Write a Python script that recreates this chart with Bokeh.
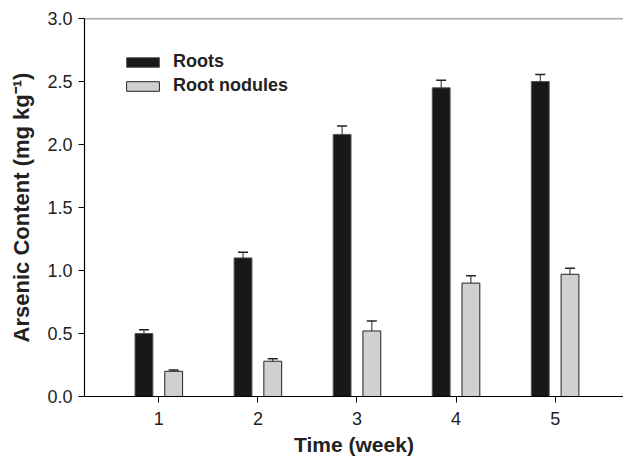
from bokeh.plotting import figure
from bokeh.models import (ColumnDataSource, Range1d, FixedTicker, Whisker, TeeHead,
                          Span, Legend, LegendItem, NumeralTickFormatter)
from bokeh.embed import file_html
from bokeh.resources import INLINE

weeks = [1, 2, 3, 4, 5]
week_labels = ["1", "2", "3", "4", "5"]
roots = [0.50, 1.10, 2.08, 2.45, 2.50]
roots_err = [0.03, 0.045, 0.067, 0.06, 0.055]
nodules = [0.20, 0.28, 0.52, 0.90, 0.97]
nodules_err = [0.01, 0.02, 0.08, 0.058, 0.047]
y_ticks = [0.0, 0.5, 1.0, 1.5, 2.0, 2.5, 3.0]

offset = 0.15
bar_w = 0.18

src_r = ColumnDataSource(dict(
    x=[w - offset for w in weeks], top=roots,
    upper=[v + e for v, e in zip(roots, roots_err)]))
src_n = ColumnDataSource(dict(
    x=[w + offset for w in weeks], top=nodules,
    upper=[v + e for v, e in zip(nodules, nodules_err)]))

p = figure(width=623, height=458, output_backend="svg", toolbar_location=None,
           x_range=Range1d(0.25, 5.69), y_range=Range1d(0, 3.0),
           min_border_left=84, min_border_top=18, min_border_bottom=60,
           min_border_right=0)
p.outline_line_color = None
p.grid.visible = False
p.background_fill_color = "white"
p.border_fill_color = "white"

r1 = p.vbar(x="x", top="top", width=bar_w, bottom=0, source=src_r,
            fill_color="#181818", line_color="#555555", line_width=1)
r2 = p.vbar(x="x", top="top", width=bar_w, bottom=0, source=src_n,
            fill_color="#d0d0d0", line_color="#222222", line_width=1)

for src in (src_r, src_n):
    w = Whisker(source=src, base="x", lower="top", upper="upper",
                dimension="height", line_color="#222222", line_width=1,
                upper_head=TeeHead(size=10, line_color="#222222", line_width=1.5),
                lower_head=None, level="glyph")
    p.add_layout(w)

p.add_layout(Span(location=3.0, dimension="width", line_color="#555555", line_width=1.5))

font = "Liberation Sans"
p.xaxis.ticker = FixedTicker(ticks=weeks)
p.xaxis.major_label_overrides = {w: l for w, l in zip(weeks, week_labels)}
p.yaxis.ticker = FixedTicker(ticks=y_ticks)
p.yaxis.formatter = NumeralTickFormatter(format="0.0")
for ax in (p.xaxis, p.yaxis):
    ax.axis_line_color = "black"
    ax.axis_line_width = 1.2
    ax.major_tick_line_color = "black"
    ax.major_tick_in = 0
    ax.major_tick_out = 6
    ax.minor_tick_line_color = None
    ax.major_label_text_font = font
    ax.major_label_text_font_size = "18px"
    ax.major_label_text_color = "#222222"
    ax.axis_label_text_font = font
    ax.axis_label_text_font_size = "21px"
    ax.axis_label_text_font_style = "bold"
    ax.axis_label_text_color = "#222222"
p.yaxis.axis_label_text_font_size = "22px"
p.xaxis.axis_label = "Time (week)"
p.yaxis.axis_label = "Arsenic Content (mg kg\u207b\u00b9)"
p.xaxis.major_label_standoff = 9
p.xaxis.axis_label_standoff = 5
p.yaxis.major_label_standoff = 6
p.yaxis.axis_label_standoff = 10

legend = Legend(items=[LegendItem(label="Roots", renderers=[r1]),
                       LegendItem(label="Root nodules", renderers=[r2])],
                location=(38, 300), orientation="vertical",
                glyph_width=41, glyph_height=12, label_height=20, spacing=3,
                padding=0, margin=0, border_line_color=None,
                background_fill_alpha=0, label_text_font=font,
                label_text_font_size="18px", label_text_font_style="bold",
                label_text_color="#222222", label_standoff=10)
p.add_layout(legend)

open("out.html", "w").write(file_html(p, INLINE))
